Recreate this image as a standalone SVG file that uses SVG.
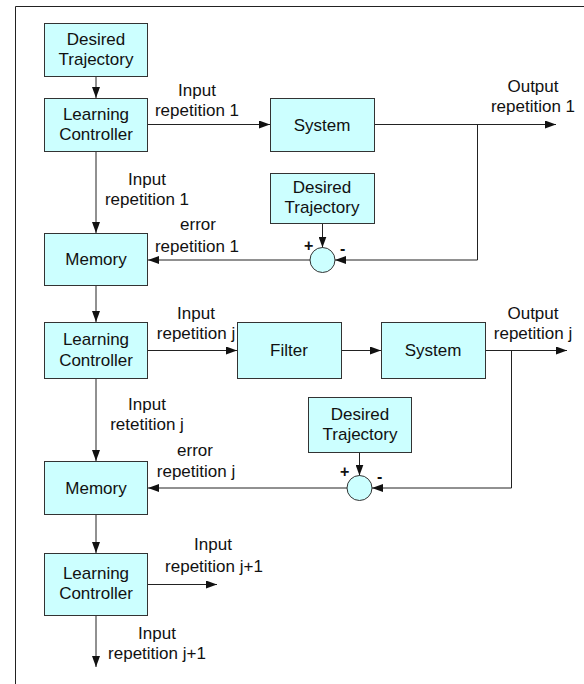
<svg xmlns="http://www.w3.org/2000/svg" width="584" height="684" viewBox="0 0 584 684">
  <style>
    .box { fill: #ccffff; stroke: #333333; stroke-width: 1; }
    .sum { fill: #ccffff; stroke: #333333; stroke-width: 1; }
    .wire { fill: none; stroke: #222222; stroke-width: 1; }
    .arrow { fill: none; stroke: #222222; stroke-width: 1; marker-end: url(#head); }
    text { font-family: "Liberation Sans", Arial, sans-serif; font-size: 17px; fill: #111111; }
    .c { text-anchor: middle; }
    .sign { font-size: 16px; font-weight: bold; }
  </style>
  <defs>
    <marker id="head" markerWidth="11" markerHeight="8" refX="11" refY="4" orient="auto" markerUnits="userSpaceOnUse">
      <path d="M0,0 L11,4 L0,8 Z" fill="#111111"/>
    </marker>
  </defs>

  <rect x="0" y="0" width="584" height="684" fill="#ffffff"/>
  <!-- outer frame -->
  <path class="wire" d="M15.5,684 V6.5 H584" stroke="#333333" stroke-width="1.5"/>

  <!-- repetition 1 -->
  <g id="desired1">
    <rect class="box" x="44.5" y="23.5" width="103" height="53"/>
    <text class="c" x="96" y="45">Desired</text>
    <text class="c" x="96" y="65">Trajectory</text>
  </g>
  <g id="controller1">
    <rect class="box" x="44.5" y="98.5" width="103" height="53"/>
    <text class="c" x="96" y="120">Learning</text>
    <text class="c" x="96" y="140">Controller</text>
  </g>
  <g id="system1">
    <rect class="box" x="270.5" y="98.5" width="104" height="53"/>
    <text class="c" x="322" y="131">System</text>
  </g>
  <g id="desired2">
    <rect class="box" x="270.5" y="173.5" width="104" height="50"/>
    <text class="c" x="322" y="193">Desired</text>
    <text class="c" x="322" y="213">Trajectory</text>
  </g>
  <g id="sum1">
    <circle class="sum" cx="322.5" cy="260" r="12.5"/>
    <text class="sign" x="304" y="251">+</text>
    <text class="sign" x="340" y="254">-</text>
  </g>
  <g id="memory1">
    <rect class="box" x="44.5" y="233.5" width="103" height="52"/>
    <text class="c" x="96" y="265">Memory</text>
  </g>

  <!-- repetition j -->
  <g id="controller2">
    <rect class="box" x="44.5" y="322.5" width="103" height="56"/>
    <text class="c" x="96" y="345">Learning</text>
    <text class="c" x="96" y="366">Controller</text>
  </g>
  <g id="filter">
    <rect class="box" x="237.5" y="322.5" width="104" height="56"/>
    <text class="c" x="289" y="356">Filter</text>
  </g>
  <g id="system2">
    <rect class="box" x="381.5" y="322.5" width="104" height="56"/>
    <text class="c" x="433" y="356">System</text>
  </g>
  <g id="desired3">
    <rect class="box" x="308.5" y="397.5" width="103" height="55"/>
    <text class="c" x="360" y="420">Desired</text>
    <text class="c" x="360" y="440">Trajectory</text>
  </g>
  <g id="sum2">
    <circle class="sum" cx="359.5" cy="488" r="12.5"/>
    <text class="sign" x="340" y="477">+</text>
    <text class="sign" x="377" y="482">-</text>
  </g>
  <g id="memory2">
    <rect class="box" x="44.5" y="461.5" width="103" height="53"/>
    <text class="c" x="96" y="494">Memory</text>
  </g>

  <!-- repetition j+1 -->
  <g id="controller3">
    <rect class="box" x="44.5" y="553.5" width="103" height="62"/>
    <text class="c" x="96" y="579">Learning</text>
    <text class="c" x="96" y="599">Controller</text>
  </g>

  <g id="connectors">
    <line class="arrow" x1="96" y1="77" x2="96" y2="98"/>
    <line class="arrow" x1="148" y1="124.5" x2="270" y2="124.5"/>
    <line class="arrow" x1="375" y1="124.5" x2="556" y2="124.5"/>
    <polyline class="arrow" points="477.5,124.5 477.5,260 335,260"/>
    <line class="arrow" x1="322.5" y1="224" x2="322.5" y2="247.5"/>
    <line class="arrow" x1="310" y1="260" x2="148" y2="260"/>
    <line class="arrow" x1="96" y1="152" x2="96" y2="233"/>
    <line class="arrow" x1="96" y1="286" x2="96" y2="322"/>

    <line class="arrow" x1="148" y1="350.5" x2="237" y2="350.5"/>
    <line class="arrow" x1="342" y1="350.5" x2="381" y2="350.5"/>
    <line class="arrow" x1="486" y1="350.5" x2="567" y2="350.5"/>
    <polyline class="arrow" points="511.5,350.5 511.5,488 372,488"/>
    <line class="arrow" x1="359.5" y1="453" x2="359.5" y2="475.5"/>
    <line class="arrow" x1="347" y1="488" x2="148" y2="488"/>
    <line class="arrow" x1="96" y1="379" x2="96" y2="461"/>
    <line class="arrow" x1="96" y1="515" x2="96" y2="553"/>

    <line class="arrow" x1="148" y1="584.5" x2="217" y2="584.5"/>
    <line class="arrow" x1="96" y1="616" x2="96" y2="667"/>
  </g>

  <g id="labels">
    <text class="c" x="197" y="96">Input</text>
    <text class="c" x="197" y="116">repetition 1</text>
    <text class="c" x="533" y="92">Output</text>
    <text class="c" x="533" y="112">repetition 1</text>
    <text class="c" x="147" y="185">Input</text>
    <text class="c" x="147" y="205">repetition 1</text>
    <text class="c" x="198" y="230">error</text>
    <text class="c" x="197" y="252">repetition 1</text>

    <text class="c" x="196" y="319">Input</text>
    <text class="c" x="196" y="339">repetition j</text>
    <text class="c" x="533" y="319">Output</text>
    <text class="c" x="533" y="339">repetition j</text>
    <text class="c" x="147" y="410">Input</text>
    <text class="c" x="147" y="430">retetition j</text>
    <text class="c" x="195" y="456">error</text>
    <text class="c" x="196" y="477">repetition j</text>

    <text class="c" x="213" y="550">Input</text>
    <text class="c" x="214" y="572">repetition j+1</text>
    <text class="c" x="157" y="639">Input</text>
    <text class="c" x="157" y="659">repetition j+1</text>
  </g>
</svg>
